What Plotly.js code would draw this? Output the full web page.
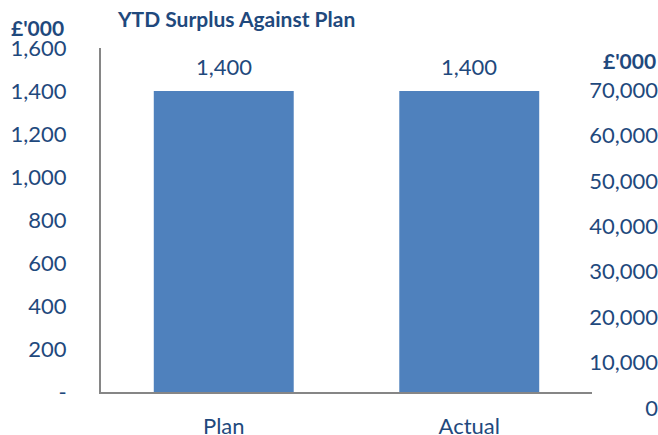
<!DOCTYPE html>
<html>
<head>
<meta charset="utf-8">
<script src="https://cdn.plot.ly/plotly-3.0.1.min.js"></script>
<style>html,body{margin:0;padding:0;background:#fff;}</style>
</head>
<body>
<div id="chart" style="width:658px;height:435px;"></div>
<script>
const categories = ["Plan", "Actual"];
const values = [1400, 1400];
const leftTickVals = [0, 200, 400, 600, 800, 1000, 1200, 1400, 1600];
const leftTickText = ["-", "200", "400", "600", "800", "1,000", "1,200", "1,400", "1,600"];
const rightTickVals = [0, 10000, 20000, 30000, 40000, 50000, 60000, 70000];
const rightTickText = ["0", "10,000", "20,000", "30,000", "40,000", "50,000", "60,000", "70,000"];

const txtColor = "#1F497D";
const fontFam = "Lato, 'Open Sans', sans-serif";
const tickSize = 22;

const traces = [
  {
    type: "bar",
    x: categories,
    y: values,
    marker: {color: "#4F81BD"},
    hoverinfo: "skip",
    showlegend: false
  },
  {
    type: "scatter",
    mode: "markers",
    x: [],
    y: [],
    xaxis: "x",
    yaxis: "y2",
    hoverinfo: "skip",
    showlegend: false
  }
];

const fmt = v => v.toLocaleString("en-US");

const annotations = categories.map((c, i) => ({
  x: c, y: values[i], xref: "x", yref: "y",
  text: fmt(values[i]), showarrow: false,
  yanchor: "middle", yshift: 25,
  font: {family: fontFam, size: tickSize, color: txtColor}
}));
annotations.push({
  xref: "paper", yref: "paper", x: (37 - 101) / 557, y: (415 - 28) / 375, xanchor: "center", yanchor: "middle",
  text: "<b>£'000</b>", showarrow: false,
  font: {family: fontFam, size: 21, color: txtColor}
});
annotations.push({
  xref: "paper", yref: "paper", x: 1.0, y: (415 - 60) / 375, xanchor: "right", yanchor: "middle",
  text: "<b>£'000</b>", showarrow: false,
  font: {family: fontFam, size: 21, color: txtColor}
});

const layout = {
  width: 658, height: 435,
  margin: {l: 101, r: 0, t: 40, b: 20},
  paper_bgcolor: "#fff", plot_bgcolor: "rgba(0,0,0,0)",
  bargap: 0.43,
  title: {
    text: "<b>YTD Surplus Against Plan</b>",
    x: 118/658, xanchor: "left", xref: "container",
    y: 1 - 20/435, yanchor: "middle", yref: "container",
    font: {family: fontFam, size: 21, color: txtColor}
  },
  xaxis: {
    domain: [0, 491/557],
    anchor: "y",
    showline: true, linecolor: "#868686", linewidth: 2,
    showgrid: false, zeroline: false,
    ticks: "outside", ticklen: 14, tickcolor: "rgba(0,0,0,0)",
    tickfont: {family: fontFam, size: tickSize, color: txtColor}
  },
  yaxis: {
    domain: [(415-392)/375, (415-48)/375],
    range: [0, 1600],
    tickvals: leftTickVals, ticktext: leftTickText,
    showline: true, linecolor: "#868686", linewidth: 2,
    showgrid: false, zeroline: false,
    ticks: "outside", ticklen: 28, tickcolor: "rgba(0,0,0,0)",
    tickfont: {family: fontFam, size: tickSize, color: txtColor}
  },
  yaxis2: {
    domain: [(415-408)/375, (415-44.6)/375],
    range: [0, 80000],
    anchor: "free", position: 1, side: "left",
    tickvals: rightTickVals, ticktext: rightTickText,
    showline: false, showgrid: false, zeroline: false,
    ticks: "",
    tickfont: {family: fontFam, size: tickSize, color: txtColor}
  },
  annotations: annotations
};

Plotly.newPlot("chart", traces, layout, {displayModeBar: false, staticPlot: true});
</script>
</body>
</html>
